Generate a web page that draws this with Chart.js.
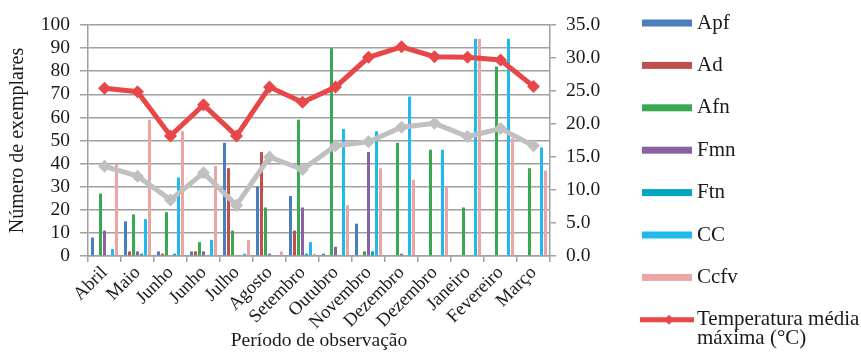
<!DOCTYPE html>
<html>
<head>
<meta charset="utf-8">
<script src="https://cdn.jsdelivr.net/npm/chart.js@4.4.1/dist/chart.umd.min.js"></script>
<style>
html,body{margin:0;padding:0;background:#fff;}
#wrap{position:relative;width:861px;height:354px;}
</style>
</head>
<body>
<div id="wrap"><canvas id="c" width="861" height="354"></canvas></div>
<script>
const categories = ['Abril','Maio','Junho','Junho','Julho','Agosto','Setembro','Outubro','Novembro','Dezembro','Dezembro','Janeiro','Fevereiro','Março'];
const apf  = [8,15,2,2,49,30,26,1,14,0,0,0,0,0];
const ad   = [0,2,1,2,38,45,11,0,0,0,0,0,0,0];
const afn  = [27,18,19,6,11,21,59,90,2,49,46,21,82,38];
const fmn  = [11,2,0,2,0,1,21,4,45,1,0,0,0,0];
const ftn  = [0,1,1,0,0,0,1,0,2,0,0,0,0,0];
const cc   = [3,16,34,7,1,0,6,55,54,69,46,94,94,47];
const ccfv = [40,59,54,39,7,2,1,22,38,33,30,94,51,37];
const tempMax = [25.4,24.9,18.2,22.9,18.2,25.6,23.3,25.6,30.1,31.7,30.2,30.1,29.7,25.7];
const tempMin = [13.6,12.1,8.5,12.6,7.7,15.0,13.1,16.7,17.3,19.5,20.1,18.1,19.3,16.7];
const leftTicks = {min:0, max:100, step:10};
const rightTicks = {min:0, max:35, step:5};

const FONT = '"Liberation Serif", "Times New Roman", serif';
const TXT = '#1a1a1a';
const GRID = '#a0a0a0';

function bar(label, data, color){
  return {type:'bar', label, data, backgroundColor:color, borderWidth:0, yAxisID:'y', order:2,
          categoryPercentage:0.85, barPercentage:0.75};
}
function line(label, data, color, inLegend){
  return {type:'line', label, data, borderColor:color, backgroundColor:color, borderWidth:5,
          pointStyle:'rectRot', pointRadius:6.5, pointBorderWidth:0, pointBackgroundColor:color,
          yAxisID:'y1', order:0, tension:0, inLegend};
}

const datasets = [
  bar('Apf', apf, '#4a7ebd'),
  bar('Ad', ad, '#c0504d'),
  bar('Afn', afn, '#38a852'),
  bar('Fmn', fmn, '#8862a3'),
  bar('Ftn', ftn, '#00a6bd'),
  bar('CC', cc, '#1fb9ee'),
  bar('Ccfv', ccfv, '#eca5a5'),
  line('Temperatura média máxima (°C)', tempMax, '#e8474a', true),
  line('Temperatura média mínima (°C)', tempMin, '#c0c0c0', false)
];

const sideLegend = {
  id:'sideLegend',
  afterDraw(chart){
    const ctx = chart.ctx;
    ctx.save();
    const x0 = 642, w = 50, tx = 697, y0 = 23, step = 42.4;
    ctx.font = '21px ' + FONT;
    ctx.textBaseline = 'middle';
    let i = 0;
    chart.data.datasets.forEach(ds => {
      if (ds.type === 'line' && !ds.inLegend) return;
      const y = y0 + step * i;
      if (ds.type === 'bar') {
        ctx.fillStyle = ds.backgroundColor;
        ctx.fillRect(x0, y - 3.5, w, 7);
      } else {
        ctx.strokeStyle = ds.borderColor;
        ctx.lineWidth = 5;
        ctx.beginPath(); ctx.moveTo(x0 - 2, y); ctx.lineTo(x0 + w + 2, y); ctx.stroke();
        ctx.fillStyle = ds.borderColor;
        const cx = x0 + w/2 + 2;
        ctx.beginPath(); ctx.moveTo(cx, y-5); ctx.lineTo(cx+5, y); ctx.lineTo(cx, y+5); ctx.lineTo(cx-5, y); ctx.closePath(); ctx.fill();
      }
      ctx.fillStyle = TXT;
      if (ds.label.startsWith('Temperatura')) {
        ctx.fillText('Temperatura média', tx, y);
        ctx.fillText('máxima (°C)', tx, y + 19);
      } else {
        ctx.fillText(ds.label, tx, y);
      }
      i++;
    });
    ctx.restore();
  }
};

function build(){
  new Chart(document.getElementById('c'), {
    data: {labels: categories, datasets},
    options: {
      responsive:false,
      animation:false,
      layout:{padding:{top:25, left:0, right:0, bottom:0}},
      plugins:{legend:{display:false}, tooltip:{enabled:false}},
      scales:{
        x:{
          offset:true,
          grid:{drawOnChartArea:false, drawTicks:true, tickLength:6, color:GRID, offset:true, lineWidth:1.5},
          border:{color:GRID, width:1.5},
          ticks:{font:{family:FONT, size:18.5}, color:TXT, maxRotation:45, minRotation:45, padding:0, autoSkip:false},
          title:{display:true, text:'Período de observação', font:{family:FONT, size:19.5}, color:TXT, padding:{top:0,bottom:1}},
          afterFit(s){ s.height = 98; }
        },
        y:{
          position:'left', min:leftTicks.min, max:leftTicks.max,
          ticks:{stepSize:leftTicks.step, autoSkip:false, maxTicksLimit:20, font:{family:FONT, size:19.5, lineHeight:1}, color:TXT, padding:10},
          grid:{color:GRID, lineWidth:1.5, tickLength:8, drawTicks:true},
          border:{color:GRID, width:1.5},
          title:{display:true, text:'Número de exemplares', font:{family:FONT, size:20}, color:TXT, padding:{top:6,bottom:0}},
          afterFit(s){ s.width = 88; }
        },
        y1:{
          position:'right', min:rightTicks.min, max:rightTicks.max,
          ticks:{stepSize:rightTicks.step, autoSkip:false, font:{family:FONT, size:19.5, lineHeight:1}, color:TXT, padding:10, callback:v => v.toFixed(1)},
          grid:{drawOnChartArea:false, color:GRID, lineWidth:1.5, tickLength:6, drawTicks:true},
          border:{color:GRID, width:1.5},
          afterFit(s){ s.width = 311; }
        }
      }
    },
    plugins:[sideLegend]
  });
}
document.fonts.load('20px "Liberation Serif"', 'Aáçã°').then(build, build);
</script>
</body>
</html>
